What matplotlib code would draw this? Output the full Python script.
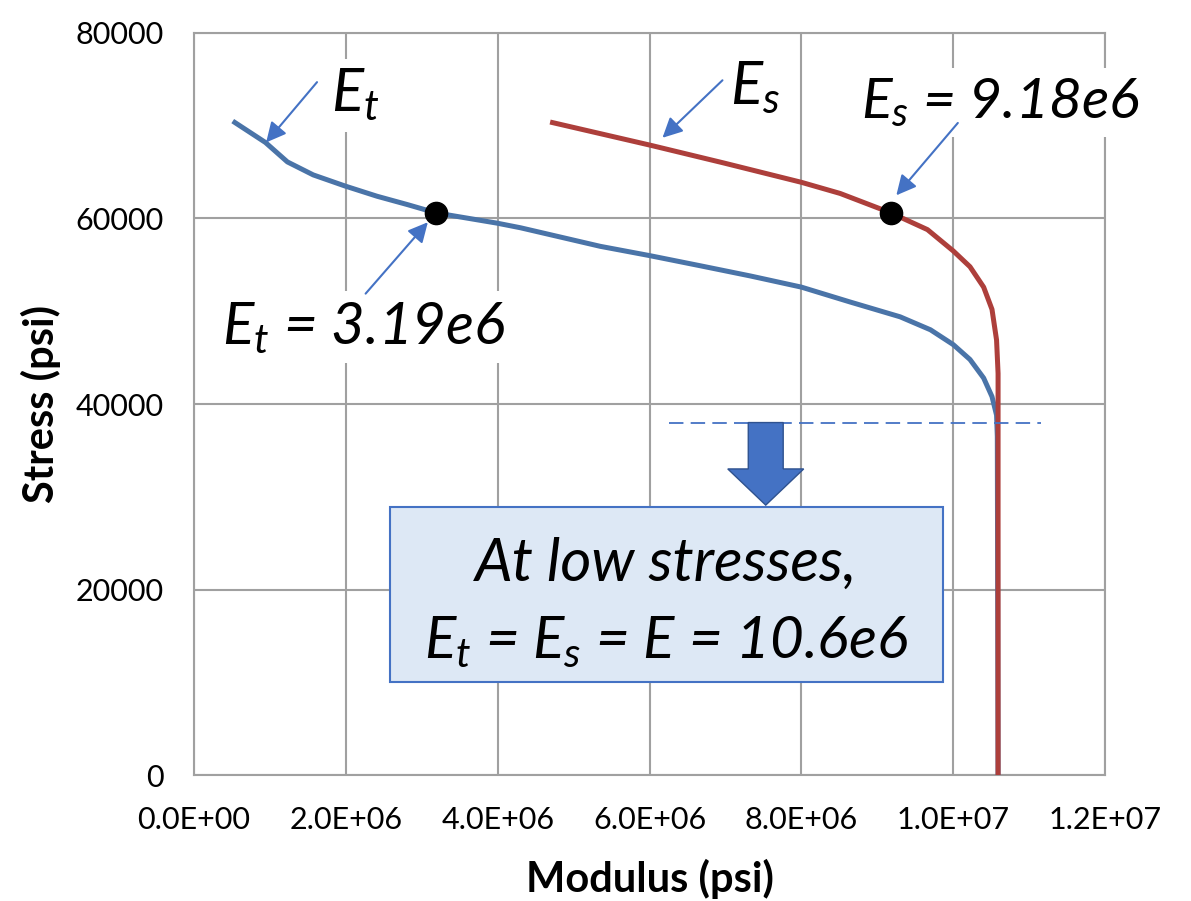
import matplotlib
matplotlib.use("Agg")
import matplotlib.pyplot as plt
from matplotlib.patches import FancyArrow, Rectangle

# curva del modulo tangente (Et) y secante (Es) contra esfuerzo
et_modulo = [0.51e6, 0.94e6, 1.23e6, 1.57e6, 1.99e6, 2.41e6, 2.81e6, 3.19e6,
             3.99e6, 4.30e6, 5.35e6, 6.00e6, 6.67e6, 7.33e6, 8.00e6, 8.64e6,
             9.30e6, 9.70e6, 10.00e6, 10.22e6, 10.40e6, 10.51e6, 10.57e6,
             10.58e6, 10.59e6]
et_esfuerzo = [70500, 68200, 66100, 64700, 63500, 62400, 61500, 60600,
               59500, 59000, 57000, 56000, 54900, 53800, 52600, 51000,
               49400, 48000, 46400, 44800, 42800, 40800, 38800,
               36500, 0]

es_modulo = [4.69e6, 6.01e6, 6.97e6, 8.00e6, 8.51e6, 9.18e6, 9.66e6, 10.00e6,
             10.22e6, 10.40e6, 10.51e6, 10.57e6, 10.59e6, 10.59e6, 10.59e6]
es_esfuerzo = [70400, 67900, 66000, 63900, 62700, 60600, 58800, 56500,
               54800, 52600, 50200, 46900, 43300, 36900, 0]

punto_et = (3.19e6, 60600)
punto_es = (9.18e6, 60600)
limite = 38000

azul = "#4a74a8"
rojo = "#ad3f3b"
flecha = "#4472c4"

plt.rcParams["font.family"] = ["Lato", "DejaVu Sans"]
plt.rcParams["mathtext.fontset"] = "custom"
plt.rcParams["mathtext.it"] = "Lato:italic"
plt.rcParams["mathtext.rm"] = "Lato:italic"

fig = plt.figure(figsize=(11.91, 9.01), dpi=100)
ax = fig.add_axes([0.1629, 0.1398, 0.765, 0.8236])

ax.plot(et_modulo, et_esfuerzo, color=azul, lw=3.6, solid_joinstyle="round",
        solid_capstyle="butt", zorder=3)
ax.plot(es_modulo, es_esfuerzo, color=rojo, lw=3.6, solid_joinstyle="round",
        solid_capstyle="butt", zorder=4)
ax.plot(*punto_et, "o", color="black", ms=16, zorder=6)
ax.plot(*punto_es, "o", color="black", ms=16, zorder=6)

ax.set_xlim(0, 1.2e7)
ax.set_ylim(0, 80000)
ax.set_xticks([0, 2e6, 4e6, 6e6, 8e6, 1e7, 1.2e7])
ax.set_xticklabels(["0.0E+00", "2.0E+06", "4.0E+06", "6.0E+06", "8.0E+06",
                    "1.0E+07", "1.2E+07"])
ax.set_yticks([0, 20000, 40000, 60000, 80000])
ax.set_yticklabels(["0", "20000", "40000", "60000", "80000"])
ax.tick_params(length=0, labelsize=22, pad=22)
ax.grid(True, color="#a0a0a0", lw=1.5, zorder=0)
for s in ax.spines.values():
    s.set_color("#a0a0a0")
    s.set_linewidth(1.5)
ax.set_xlabel("Modulus (psi)", fontsize=30, fontweight="bold", labelpad=18)
ax.set_ylabel("Stress (psi)", fontsize=30, fontweight="bold", labelpad=10)

# linea punteada del limite proporcional
ax.plot([6.25e6, 11.15e6], [limite, limite], color=flecha, lw=1.3,
        dashes=(8, 4), zorder=5)
ax.add_patch(FancyArrow(7.53e6, limite, 0, -8900, width=0.46e6, head_width=1.0e6,
                        head_length=3900, length_includes_head=True,
                        facecolor=flecha, edgecolor="#2f528f", lw=1, zorder=5))

ax.add_patch(Rectangle((2.58e6, 10000), 7.28e6, 18900, facecolor="#dde8f5",
                       edgecolor=flecha, lw=1.5, zorder=7))
ax.text(6.22e6, 22800, "At low stresses,", fontsize=43, style="italic",
        ha="center", va="center", zorder=8)
ax.text(6.22e6, 14400, r"$E_t$ = $E_s$ = E = 10.6e6", fontsize=42, style="italic",
        ha="center", va="center", zorder=8)

caja = dict(facecolor="white", edgecolor="none", pad=6)
ax.text(2.12e6, 73300, r"$E_t$", fontsize=43, ha="center", va="center",
        bbox=caja, zorder=5)
ax.text(2.23e6, 48300, r"$E_t$ = 3.19e6", fontsize=42, style="italic",
        ha="center", va="center", bbox=caja, zorder=5)
ax.text(7.39e6, 74100, r"$E_s$", fontsize=43, ha="center", va="center",
        bbox=caja, zorder=5)
ax.text(10.62e6, 72500, r"$E_s$ = 9.18e6", fontsize=41, style="italic",
        ha="center", va="center", bbox=caja, zorder=5, clip_on=False)

props = dict(arrowstyle="-|>", color=flecha, lw=1.5, mutation_scale=30,
             shrinkA=0, shrinkB=0)
ax.annotate("", xy=(0.95e6, 68200), xytext=(1.62e6, 74700), arrowprops=props, zorder=6)
ax.annotate("", xy=(3.08e6, 59600), xytext=(2.26e6, 51900), arrowprops=props, zorder=6)
ax.annotate("", xy=(6.17e6, 68700), xytext=(6.96e6, 74900), arrowprops=props, zorder=6)
ax.annotate("", xy=(9.25e6, 62500), xytext=(10.06e6, 70300), arrowprops=props, zorder=6)

fig.savefig("out.png", dpi=100)
